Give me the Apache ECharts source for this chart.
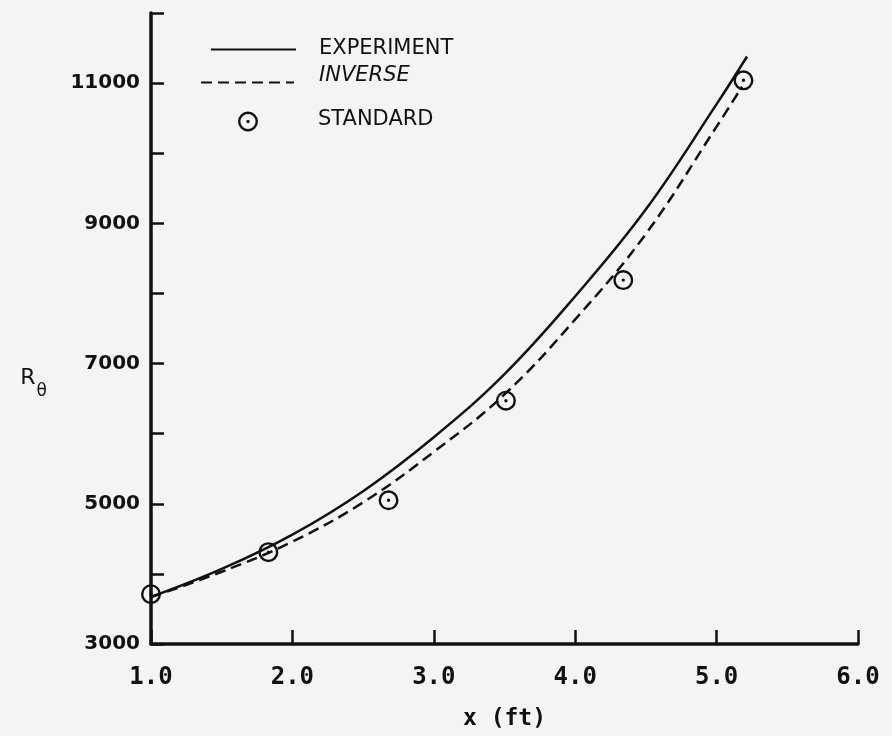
<!DOCTYPE html>
<html>
<head>
<meta charset="utf-8">
<title>R theta vs x</title>
<script src="https://cdn.jsdelivr.net/npm/echarts@6/dist/echarts.min.js"></script>
<style>
    html, body { margin: 0; padding: 0; background: #f4f4f2; }
    #chart { width: 892px; height: 736px; }
</style>
</head>
<body>
<div id="chart"></div>
<script>
// values
var experimentX = [1.0, 1.5, 2.0, 2.5, 3.0, 3.5, 4.0, 4.5, 5.0, 5.215]
var experimentR = [3670, 4070, 4560, 5180, 5950, 6850, 7960, 9200, 10700, 11380]

var inverseX = [1.0, 1.5, 2.0, 2.5, 3.0, 3.5, 4.0, 4.5, 5.0, 5.18]
var inverseR = [3670, 4030, 4460, 5020, 5740, 6560, 7630, 8850, 10380, 10950]

var standardX = [1.0, 1.83, 2.68, 3.51, 4.34, 5.19]
var standardR = [3710, 4310, 5050, 6470, 8190, 11040]

// only these y ticks carry a label
var yLabelValues = [3000, 5000, 7000, 9000, 11000]

var ink = '#111111'

function pairs(xs, ys) {
    return xs.map((x, i) => [x, ys[i]])
}

// ring with a dot in the middle
var dotCircle = 'path://M0,-10A10,10 0 1,1 0,10A10,10 0 1,1 0,-10Z' +
    'M0,-7.6A7.6,7.6 0 1,0 0,7.6A7.6,7.6 0 1,0 0,-7.6Z' +
    'M0,-1.7A1.7,1.7 0 1,1 0,1.7A1.7,1.7 0 1,1 0,-1.7Z'

// one legend block per entry, so each can sit where the figure has it
function legendBlock(name, left, top, w, textPad, italic) {
    return {
        data: [name],
        left: left, top: top,
        padding: 0,
        selectedMode: false,
        itemWidth: w, itemHeight: 20,
        // hide the marker that line series put in the middle of the icon
        itemStyle: name === 'STANDARD' ? {} : { color: 'rgba(0,0,0,0)', borderWidth: 0 },
        formatter: n => '{a|' + n + '}',
        textStyle: {
            rich: {
                a: {
                    fontFamily: 'DejaVu Sans',
                    fontSize: 21,
                    fontStyle: italic ? 'italic' : 'normal',
                    color: ink,
                    padding: textPad
                }
            }
        }
    }
}

var theChart = echarts.init(document.getElementById('chart'))
var option = {
    backgroundColor: '#f4f4f2',
    animation: false,
    grid: { left: 151, right: 34, top: 13, bottom: 91, containLabel: false },
    legend: [
        legendBlock('EXPERIMENT', 210, 38, 85, [0, 0, 2, 18], false),
        legendBlock('INVERSE', 200, 65, 93, [0, 0, 14, 20], true),
        legendBlock('STANDARD', 238, 109, 20, [0, 0, 4, 55], false)
    ],
    xAxis: {
        type: 'value',
        min: 1, max: 6, interval: 1,
        name: 'x (ft)',
        nameLocation: 'middle',
        nameGap: 64,
        nameTextStyle: { fontFamily: 'DejaVu Sans Mono', fontWeight: 'bold', fontSize: 23, color: ink },
        axisLine: { show: true, onZero: false, lineStyle: { color: ink, width: 3.5 } },
        axisTick: { show: true, inside: true, length: 14, lineStyle: { color: ink, width: 2.5 } },
        axisLabel: {
            margin: 22,
            fontFamily: 'DejaVu Sans Mono', fontWeight: 'bold', fontSize: 24, color: ink,
            formatter: v => v.toFixed(1)
        },
        splitLine: { show: false }
    },
    yAxis: {
        type: 'value',
        min: 3000, max: 12000, interval: 1000,
        name: '{r|R}{t|θ}',
        nameLocation: 'middle',
        nameRotate: 0,
        nameGap: 104,
        nameTextStyle: {
            color: ink,
            padding: [114, 0, 0, 0],
            rich: {
                r: { fontFamily: 'DejaVu Sans', fontSize: 22, color: ink, padding: [0, 0, 14, 0] },
                t: { fontFamily: 'DejaVu Sans', fontSize: 17, color: ink, padding: [12, 0, 0, 1] }
            }
        },
        axisLine: { show: true, onZero: false, lineStyle: { color: ink, width: 3.5 } },
        axisTick: { show: true, inside: true, length: 13, lineStyle: { color: ink, width: 2.5 } },
        axisLabel: {
            margin: 11,
            fontFamily: 'DejaVu Sans', fontWeight: 'bold', fontSize: 20, color: ink,
            formatter: v => yLabelValues.indexOf(v) >= 0 ? String(v) : ''
        },
        splitLine: { show: false }
    },
    series: [{
        name: 'EXPERIMENT',
        type: 'line',
        data: pairs(experimentX, experimentR),
        smooth: 0.4,
        symbol: 'none',
        color: ink,
        lineStyle: { color: ink, width: 2.5, type: 'solid' },
        z: 3
    }, {
        name: 'INVERSE',
        type: 'line',
        data: pairs(inverseX, inverseR),
        smooth: 0.4,
        symbol: 'none',
        color: ink,
        lineStyle: { color: ink, width: 2.5, type: [11, 6] },
        z: 3
    }, {
        name: 'STANDARD',
        type: 'scatter',
        data: pairs(standardX, standardR),
        symbol: dotCircle,
        symbolSize: 20,
        itemStyle: { color: ink, opacity: 1 },
        z: 4
    }]
}
theChart.setOption(option)
</script>
</body>
</html>
